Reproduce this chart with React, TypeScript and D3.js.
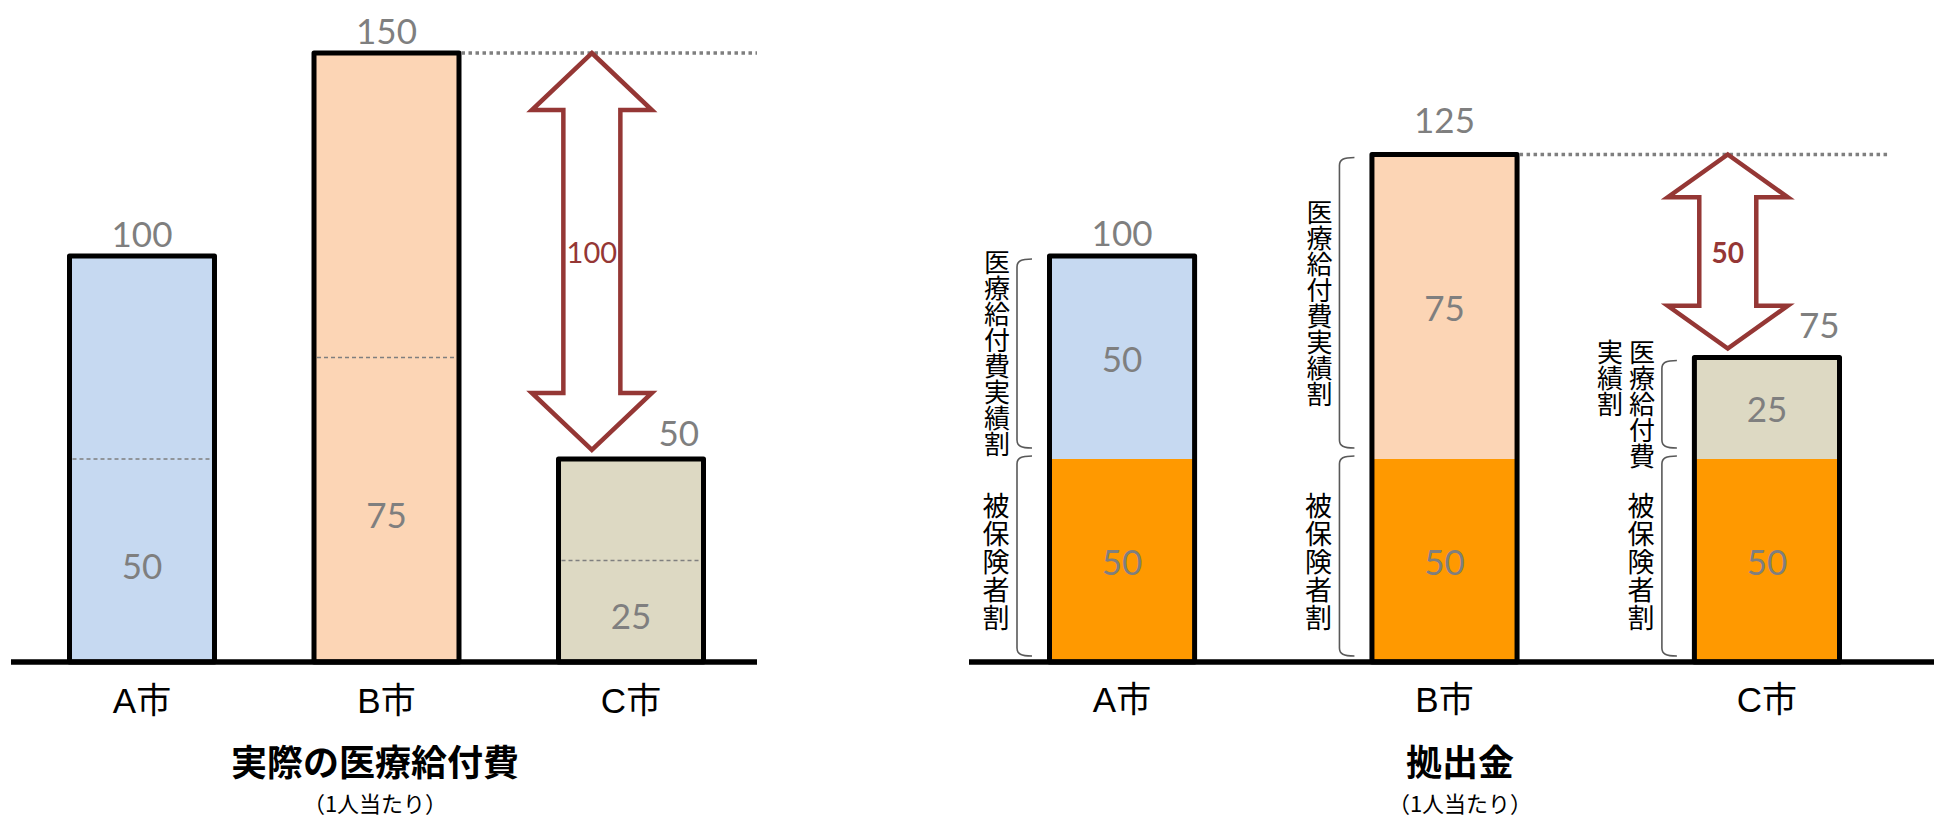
import React from 'react';
import * as d3 from 'd3';

// ---------- data ----------
const cities = ['A市', 'B市', 'C市'];
const actualCost = [100, 150, 50];      // 実際の医療給付費
const actualHalf = [50, 75, 25];        // dashed split inside each bar
const insuredShare = [50, 50, 50];      // 被保険者割
const costShare = [50, 75, 25];         // 医療給付費実績割
const contribution = [100, 125, 75];    // 拠出金 totals
const barColors = ['#C6D9F1', '#FCD5B5', '#DDD9C3'];
const insuredColor = '#FF9900';
const titles = ['実際の医療給付費', '拠出金'];
const subtitle = '（1人当たり）';
const costLabel = '医療給付費実績割';
const insuredLabel = '被保険者割';

// ---------- layout ----------
const W = 1934;
const H = 819;
const BASE = 662;
const y = d3.scaleLinear().domain([0, 150]).range([BASE, 53]);
const xL = d3.scaleBand<string>().domain(cities).range([69.5, 703.5]).paddingInner(0.407).paddingOuter(0);
const xR = d3.scaleBand<string>().domain(cities).range([1049.5, 1839.5]).paddingInner(0.55).paddingOuter(0);

const GREY = '#7F7F7F';
const RED = '#953735';
const NUM_FONT = "Lato, 'Open Sans', sans-serif";
const LAT_FONT = "'Liberation Sans', Arial, 'Noto Sans CJK JP', sans-serif";
const CJK_FONT = "'Noto Sans CJK JP', sans-serif";

function arrowPath(cx: number, yTop: number, yBot: number) {
  const hw = 60, sw = 28.5;
  const hh = Math.min(57, 0.22 * (yBot - yTop));
  return [
    [cx, yTop], [cx + hw, yTop + hh], [cx + sw, yTop + hh], [cx + sw, yBot - hh],
    [cx + hw, yBot - hh], [cx, yBot], [cx - hw, yBot - hh], [cx - sw, yBot - hh],
    [cx - sw, yTop + hh], [cx - hw, yTop + hh],
  ].map((p, i) => (i ? 'L' : 'M') + p[0] + ',' + p[1]).join('') + 'Z';
}

function bracketPath(bx: number, y1: number, y2: number) {
  return `M${bx + 15},${y1} C${bx + 4},${y1} ${bx},${y1 + 2} ${bx},${y1 + 8} L${bx},${y2 - 8} C${bx},${y2 - 2} ${bx + 4},${y2} ${bx + 15},${y2}`;
}

// vertical Japanese text (columns right-to-left, top-aligned), centred on cy by its first column
function VerticalText({ text, cx, cy, fs, step, maxPerCol, colGap }:
  { text: string; cx: number; cy: number; fs: number; step: number; maxPerCol: number; colGap: number }) {
  const chars = Array.from(text);
  const cols: string[] = [];
  for (let i = 0; i < chars.length; i += maxPerCol) cols.push(chars.slice(i, i + maxPerCol).join(''));
  const n1 = Array.from(cols[0]).length;
  const top = cy - (n1 * step) / 2;
  return (
    <g>
      {cols.map((col, ci) => (
        <text key={ci} x={cx - ci * colGap} y={top} fontSize={fs} fontFamily={CJK_FONT} fill="#000"
          textAnchor="start" letterSpacing={step - fs}
          style={{ writingMode: 'vertical-rl', textOrientation: 'upright' } as React.CSSProperties}>{col}</text>
      ))}
    </g>
  );
}

export default function App() {
  const bwL = xL.bandwidth();
  const bwR = xR.bandwidth();

  const lArrowX = (xL('C市') as number) + bwL * 0.23;
  const lTop = y(actualCost[1]);
  const lBot = y(actualCost[2]) - 9;
  const rArrowX = (xR('C市') as number) + bwR * 0.23;
  const rTop = y(contribution[1]);
  const rBot = y(contribution[2]) - 9;

  return (
    <svg width={W} height={H} style={{ position: 'absolute', left: 0, top: 0, display: 'block' }}>
      <rect x={0} y={0} width={W} height={H} fill="#fff" />

      {/* ===== Left panel ===== */}
      {cities.map((c, i) => {
        const x0 = xL(c) as number;
        const top = y(actualCost[i]);
        const half = y(actualHalf[i]);
        const last = i === cities.length - 1;
        return (
          <g key={'L' + c}>
            <rect x={x0} y={top} width={bwL} height={BASE - top} fill={barColors[i]} stroke="#000"
              strokeWidth={5} strokeLinejoin="round" />
            <line x1={x0 + 3} x2={x0 + bwL - 3} y1={half} y2={half} stroke={GREY} strokeWidth={1.5}
              strokeDasharray="4 3" />
            <text x={x0 + bwL / 2} y={(half + BASE) / 2 + 4} fontSize={35} fontFamily={NUM_FONT} fill={GREY}
              textAnchor="middle" dominantBaseline="central">{actualHalf[i]}</text>
            <text x={x0 + bwL / 2 + (last ? bwL * 0.33 : 0)} y={top - (last ? 13 : 9)} fontSize={35}
              fontFamily={NUM_FONT} fill={GREY} textAnchor="middle">{actualCost[i]}</text>
            <text x={x0 + bwL / 2} y={713} fontSize={35} fontFamily={LAT_FONT} fill="#000"
              textAnchor="middle">{c}</text>
          </g>
        );
      })}
      <line x1={(xL('B市') as number) + bwL + 2.5} x2={757} y1={y(actualCost[1])} y2={y(actualCost[1])}
        stroke={GREY} strokeWidth={3.5} strokeDasharray="3.5 3.5" />
      <path d={arrowPath(lArrowX, lTop, lBot)} fill="#fff" stroke={RED} strokeWidth={4.5} />
      <text x={lArrowX} y={(lTop + lBot) / 2} fontSize={29} fontWeight={400} fontFamily={NUM_FONT} fill={RED}
        textAnchor="middle" dominantBaseline="central">{actualCost[1] - actualCost[2]}</text>
      <line x1={11} x2={757} y1={BASE} y2={BASE} stroke="#000" strokeWidth={5.5} />
      <text x={375} y={776} fontSize={36} fontWeight={700} fontFamily={CJK_FONT} textAnchor="middle"
        fill="#000">{titles[0]}</text>
      <text x={375} y={812} fontSize={22} fontFamily={CJK_FONT} textAnchor="middle" fill="#000">{subtitle}</text>

      {/* ===== Right panel ===== */}
      {cities.map((c, i) => {
        const x0 = xR(c) as number;
        const top = y(contribution[i]);
        const mid = y(insuredShare[i]);
        const last = i === cities.length - 1;
        const bx = x0 - 2.5 - 30;
        const upY1 = top + 3;
        const upY2 = mid - 11;
        const loY1 = mid - 3;
        const loY2 = BASE - 6;
        const upStep = 26;
        const perCol = Math.ceil((upY2 - upY1) / upStep) + 1;
        return (
          <g key={'R' + c}>
            <rect x={x0} y={mid} width={bwR} height={BASE - mid} fill={insuredColor} />
            <rect x={x0} y={top} width={bwR} height={mid - top} fill={barColors[i]} />
            <rect x={x0} y={top} width={bwR} height={BASE - top} fill="none" stroke="#000" strokeWidth={5}
              strokeLinejoin="round" />
            <text x={x0 + bwR / 2} y={(top + mid) / 2} fontSize={35} fontFamily={NUM_FONT} fill={GREY}
              textAnchor="middle" dominantBaseline="central">{costShare[i]}</text>
            <text x={x0 + bwR / 2} y={(mid + BASE) / 2} fontSize={35} fontFamily={NUM_FONT} fill={GREY}
              textAnchor="middle" dominantBaseline="central">{insuredShare[i]}</text>
            <text x={x0 + bwR / 2 + (last ? bwR * 0.36 : 0)} y={top - (last ? 20 : i === 1 ? 22 : 10)}
              fontSize={35} fontFamily={NUM_FONT} fill={GREY} textAnchor="middle">{contribution[i]}</text>
            <path d={bracketPath(bx, upY1, upY2)} fill="none" stroke="#595959" strokeWidth={1.6} />
            <path d={bracketPath(bx, loY1, loY2)} fill="none" stroke="#595959" strokeWidth={1.6} />
            <VerticalText text={costLabel} cx={bx - 20} cy={(upY1 + upY2) / 2} fs={26}
              step={upStep} maxPerCol={perCol} colGap={32} />
            <VerticalText text={insuredLabel} cx={bx - 21} cy={(loY1 + loY2) / 2 + 6} fs={27}
              step={28} maxPerCol={8} colGap={32} />
            <text x={x0 + bwR / 2} y={712} fontSize={35} fontFamily={LAT_FONT} fill="#000"
              textAnchor="middle">{c}</text>
          </g>
        );
      })}
      <line x1={(xR('B市') as number) + bwR + 2.5} x2={1888} y1={y(contribution[1])} y2={y(contribution[1])}
        stroke={GREY} strokeWidth={3.5} strokeDasharray="3.5 3.5" />
      <path d={arrowPath(rArrowX, rTop, rBot)} fill="#fff" stroke={RED} strokeWidth={4.5} />
      <text x={rArrowX} y={(rTop + rBot) / 2} fontSize={28} fontWeight={700} fontFamily={NUM_FONT} fill={RED}
        textAnchor="middle" dominantBaseline="central">{contribution[1] - contribution[2]}</text>
      <line x1={969} x2={1934} y1={BASE} y2={BASE} stroke="#000" strokeWidth={5.5} />
      <text x={1460} y={776} fontSize={36} fontWeight={700} fontFamily={CJK_FONT} textAnchor="middle"
        fill="#000">{titles[1]}</text>
      <text x={1460} y={812} fontSize={22} fontFamily={CJK_FONT} textAnchor="middle" fill="#000">{subtitle}</text>
    </svg>
  );
}
